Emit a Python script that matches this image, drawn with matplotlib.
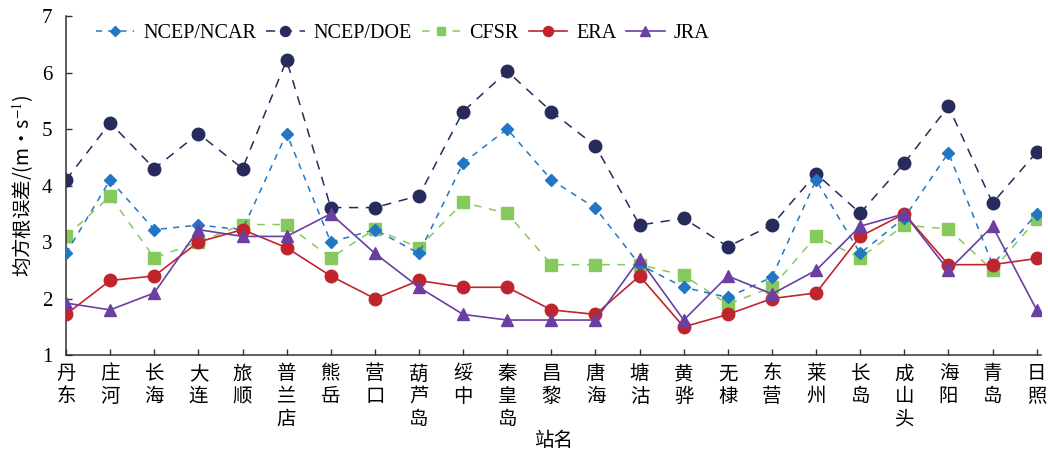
import matplotlib
matplotlib.use("Agg")
import matplotlib.pyplot as plt
import numpy as np

stations = ["丹东", "庄河", "长海", "大连", "旅顺", "普兰店", "熊岳", "营口", "葫芦岛", "绥中",
            "秦皇岛", "昌黎", "唐海", "塘沽", "黄骅", "无棣", "东营", "莱州", "长岛", "成山头",
            "海阳", "青岛", "日照"]

ncep_ncar = [2.8, 4.1, 3.22, 3.3, 3.22, 4.92, 3.0, 3.22, 2.8, 4.4, 5.0, 4.1, 3.6, 2.6,
             2.2, 2.02, 2.38, 4.1, 2.8, 3.43, 4.58, 2.6, 3.5]
ncep_doe = [4.1, 5.11, 4.3, 4.92, 4.3, 6.22, 3.61, 3.61, 3.82, 5.31, 6.02, 5.31, 4.7, 3.3,
            3.42, 2.92, 3.3, 4.21, 3.51, 4.4, 5.4, 3.69, 4.59]
cfsr = [3.1, 3.81, 2.72, 3.0, 3.31, 3.31, 2.72, 3.23, 2.9, 3.7, 3.51, 2.6, 2.6, 2.6,
        2.41, 1.9, 2.2, 3.1, 2.72, 3.3, 3.23, 2.5, 3.4]
era = [1.72, 2.32, 2.4, 3.0, 3.22, 2.9, 2.4, 2.0, 2.32, 2.2, 2.2, 1.8, 1.72, 2.4,
       1.5, 1.72, 2.0, 2.1, 3.1, 3.5, 2.6, 2.6, 2.71]
jra = [1.92, 1.8, 2.1, 3.22, 3.1, 3.1, 3.5, 2.8, 2.2, 1.72, 1.62, 1.62, 1.62, 2.7,
       1.62, 2.4, 2.08, 2.5, 3.28, 3.5, 2.5, 3.28, 1.8]

yticks = [1, 2, 3, 4, 5, 6, 7]

plt.rcParams['font.family'] = ['Liberation Serif', 'Noto Sans CJK SC']
plt.rcParams['mathtext.fontset'] = 'stix'

fig = plt.figure(figsize=(10.48, 4.57), dpi=100)
ax = fig.add_axes([0.063, 0.223, 0.930, 0.742])

x = np.arange(len(stations))

ax.plot(x, ncep_ncar, color='#2177c4', ls=(0, (4, 4)), lw=1.1, marker='D', ms=6,
        label='NCEP/NCAR', zorder=3)
ax.plot(x, ncep_doe, color='#272b5c', ls=(0, (6, 5)), lw=1.1, marker='o', ms=9,
        label='NCEP/DOE', zorder=2)
ax.plot(x, cfsr, color='#86c95c', ls=(0, (5, 5)), lw=1.1, marker='s', ms=8,
        label='CFSR', zorder=2)
ax.plot(x, era, color='#c0252d', ls='-', lw=1.2, marker='o', ms=9,
        label='ERA', zorder=4)
ax.plot(x, jra, color='#6b3fa2', ls='-', lw=1.2, marker='^', ms=8.5,
        label='JRA', zorder=5)

ax.set_xlim(0, 22.09)
ax.set_ylim(1, 7)
ax.set_yticks(yticks)
ax.set_yticklabels([str(t) for t in yticks], fontsize=15, family='Liberation Serif')
ax.set_xticks(x)
ax.set_xticklabels(['\n'.join(s) for s in stations], fontsize=14,
                   family=['Noto Sans CJK SC'], linespacing=1.1, va='top')

ax.tick_params(axis='both', direction='in', length=4, width=1, color='#333333')
ax.tick_params(axis='x', pad=6)
ax.tick_params(axis='y', pad=10)
for side in ['top', 'right']:
    ax.spines[side].set_visible(False)
for side in ['left', 'bottom']:
    ax.spines[side].set_linewidth(1.1)
    ax.spines[side].set_color('#333333')

ax.set_ylabel('均方根误差/(m·s$^{-1}$)', fontsize=14, family=['Noto Sans CJK SC', 'DejaVu Sans'])
ax.set_xlabel('站名', fontsize=14, family=['Noto Sans CJK SC'])
ax.xaxis.set_label_coords(0.5, -0.252)
ax.xaxis.label.set_va('center')

leg = ax.legend(loc='upper left', bbox_to_anchor=(0.012, 1.03), ncol=5, frameon=False,
                fontsize=14.5, handlelength=1.9, handletextpad=0.45, columnspacing=0.5,
                markerscale=0.8)

fig.savefig('out.png', dpi=100)
